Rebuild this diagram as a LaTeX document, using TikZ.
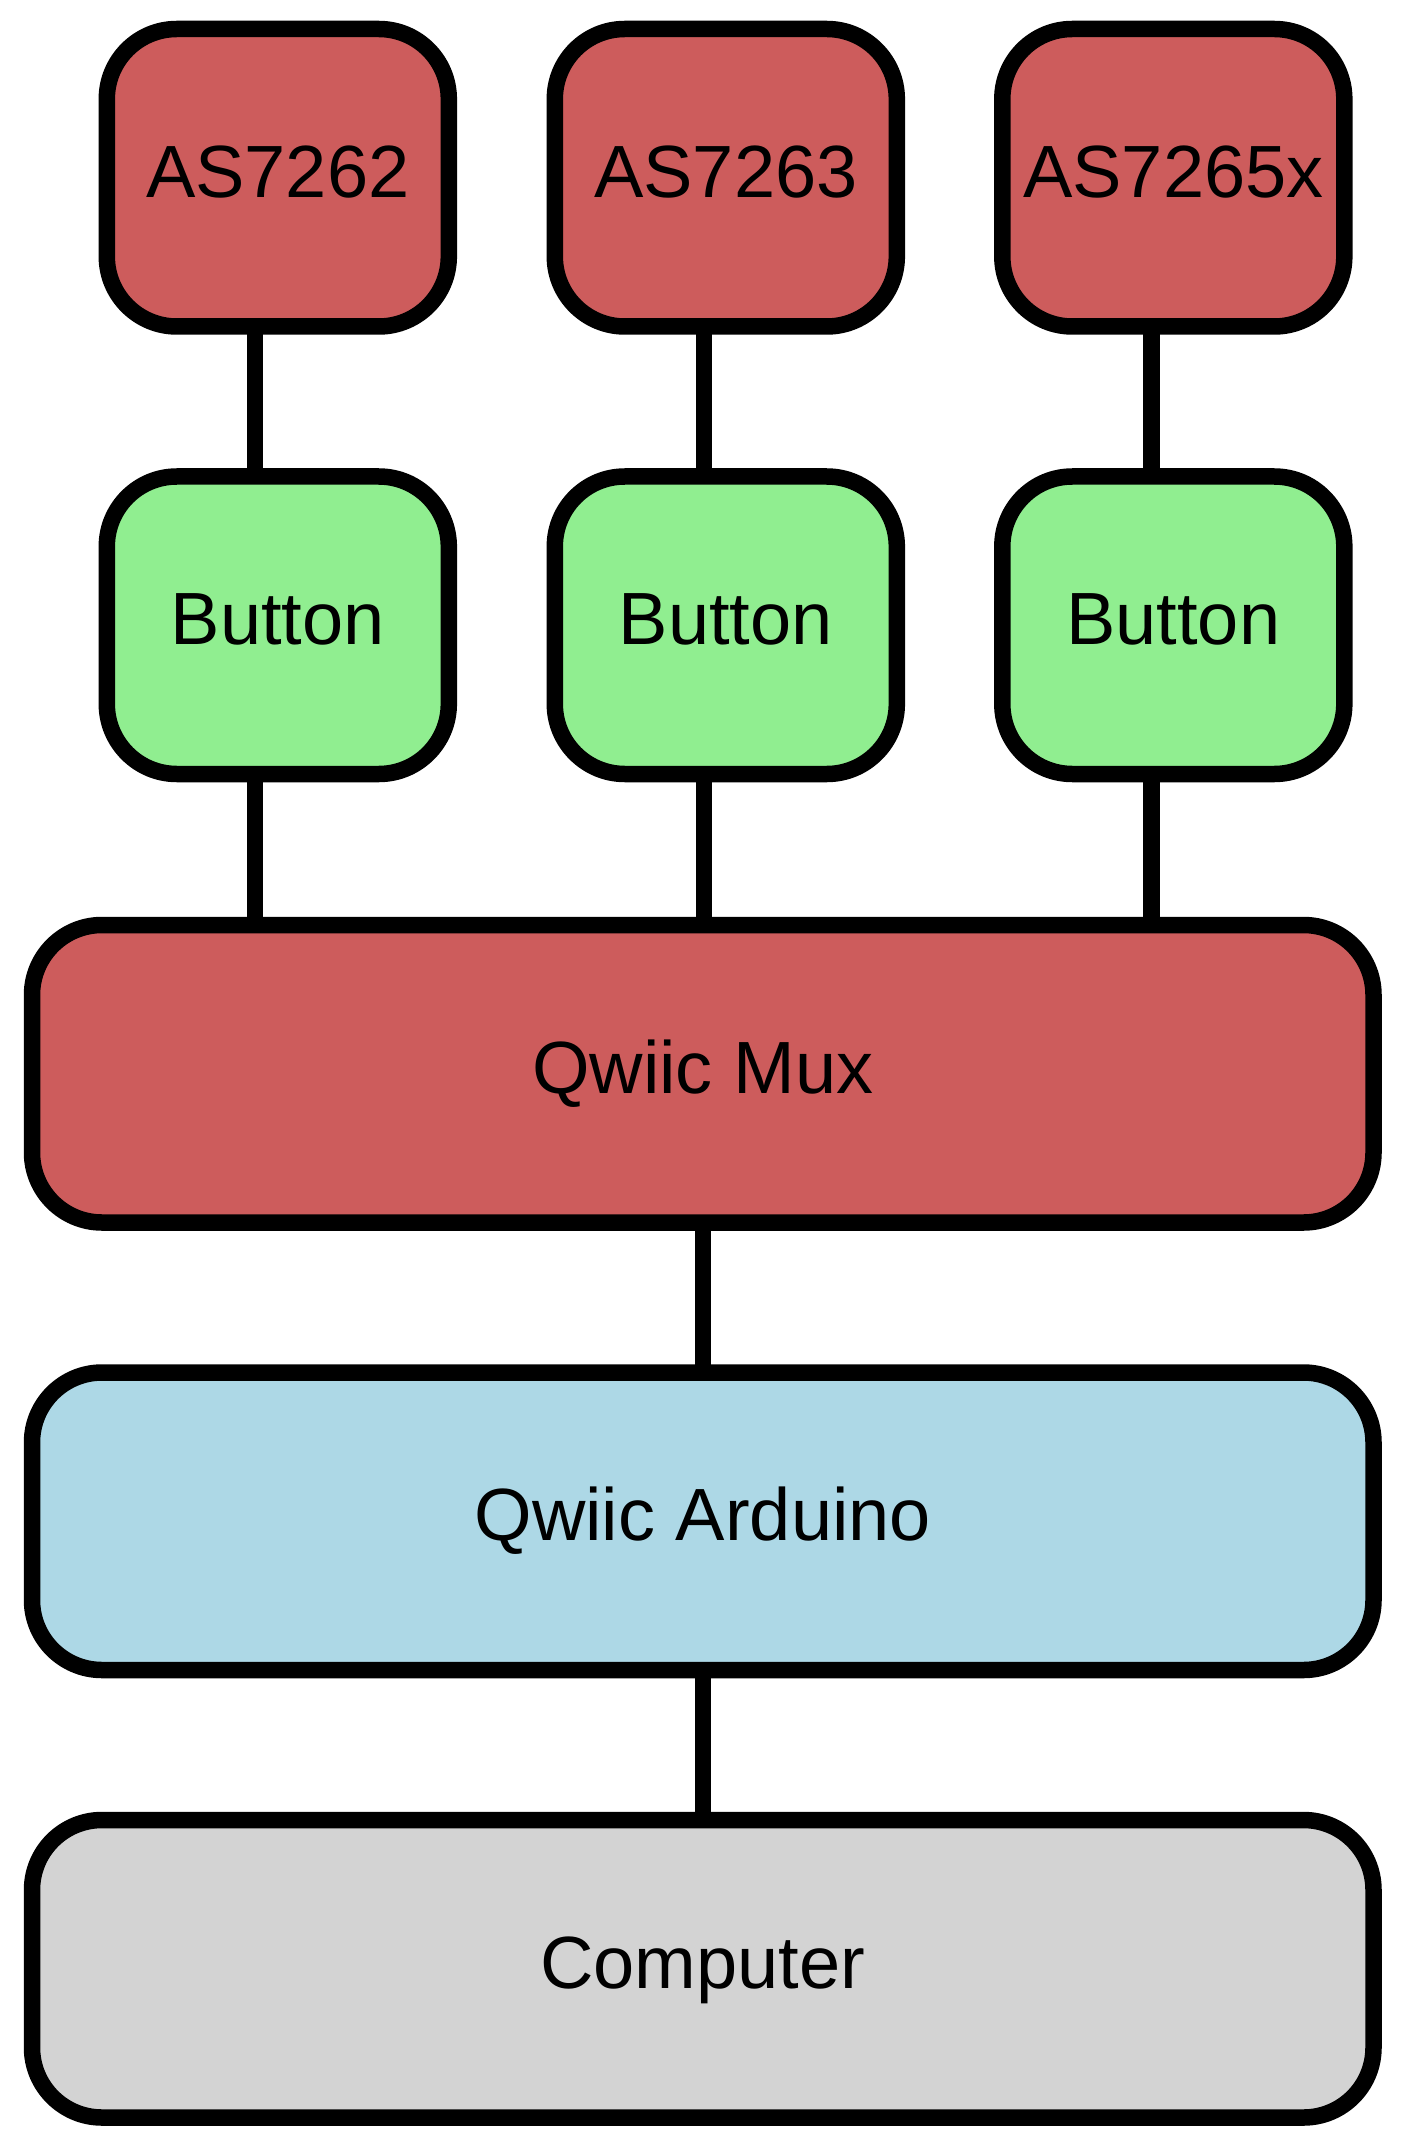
\documentclass[tikz,border=0pt]{standalone}
\usepackage{fontspec}
\setmainfont{Liberation Sans}
\definecolor{sensorred}{HTML}{CD5C5C}
\definecolor{btngreen}{HTML}{90EE90}
\definecolor{ardblue}{HTML}{ADD8E6}
\definecolor{pcgray}{HTML}{D3D3D3}
\begin{document}
\begin{tikzpicture}[x=0.5pt,y=-0.5pt,
  box/.style={draw=black, line width=8.25pt, rounded corners=35pt, inner sep=0pt,
    font=\fontsize{37}{44}\selectfont, text height=29.6pt, text depth=10.1pt,
    minimum height=148.75pt},
  smallbox/.style={box, minimum width=171pt},
  widebox/.style={box, minimum width=670.75pt},
  link/.style={draw=black, line width=8.25pt, shorten <=-4pt, shorten >=-4pt}]
\useasboundingbox (0,0) rectangle (1406,2150);
% sensors
\node[smallbox, fill=sensorred] (s1) at (277.8,177.75) {AS7262};
\node[smallbox, fill=sensorred] (s2) at (725.8,177.75) {AS7263};
\node[smallbox, fill=sensorred] (s3) at (1173.3,177.75) {AS7265x};
% buttons
\node[smallbox, fill=btngreen] (b1) at (277.8,625.25) {Button};
\node[smallbox, fill=btngreen] (b2) at (725.8,625.25) {Button};
\node[smallbox, fill=btngreen] (b3) at (1173.3,625.25) {Button};
% wide boxes
\node[widebox, fill=sensorred] (mux) at (702.75,1073.75) {Qwiic Mux};
\node[widebox, fill=ardblue] (ard) at (702.75,1521.25) {Qwiic Arduino};
\node[widebox, fill=pcgray] (pc) at (702.75,1968.75) {Computer};
% connectors
\draw[link] ([xshift=-11.4pt]s1.south) -- ([xshift=-11.4pt]b1.north);
\draw[link] ([xshift=-11pt]s2.south) -- ([xshift=-11pt]b2.north);
\draw[link] ([xshift=-10.9pt]s3.south) -- ([xshift=-10.9pt]b3.north);
\draw[link] ([xshift=-11.4pt]b1.south) coordinate (p1) -- (p1 |- mux.north);
\draw[link] ([xshift=-11pt]b2.south) coordinate (p2) -- (p2 |- mux.north);
\draw[link] ([xshift=-10.9pt]b3.south) coordinate (p3) -- (p3 |- mux.north);
\draw[link] (mux.south) -- (ard.north);
\draw[link] (ard.south) -- (pc.north);
\end{tikzpicture}
\end{document}
